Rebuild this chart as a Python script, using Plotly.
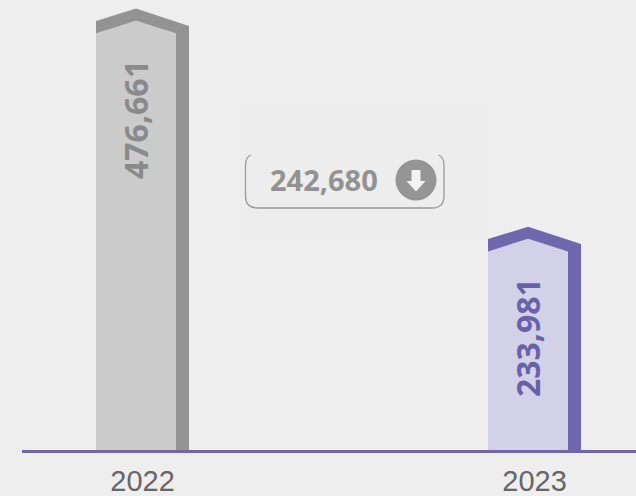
import plotly.graph_objects as go

# Yearly totals
years = ["2022", "2023"]
totals = [476661, 233981]
change = 242680

# Per-year colours: wall, face, label
wall_colors = ["#939393", "#7068AE"]
face_colors = ["#CBCBCB", "#D3D1E7"]
label_colors = ["#8A8A8A", "#6A62A8"]

WIDTH, HEIGHT = 636, 496
LEFT, BOTTOM = 22, 46
PLOT_W = WIDTH - LEFT
PLOT_H = HEIGHT - BOTTOM
PX_PER_CAT = 392.0
PX_PER_UNIT = 218.1 / change
FIRST_CENTER = 142.5
TOP_OF_TALLEST = 26  # pixel row of the tallest column's value
BACKGROUND = "#EEEEEE"
LABEL_FONT = "Noto Sans"


def px_x(p):
    return (p - LEFT) / PLOT_W


def px_y(p):
    return (PLOT_H - p) / PLOT_H


xs = list(range(len(years)))
fig = go.Figure()

# Flat front face and darker side wall of each column
fig.add_bar(x=xs, y=totals, width=80 / PX_PER_CAT, offset=-46.5 / PX_PER_CAT,
            marker=dict(color=face_colors, line_width=0), hoverinfo="skip")
fig.add_bar(x=xs, y=totals, width=13 / PX_PER_CAT, offset=33.5 / PX_PER_CAT,
            marker=dict(color=wall_colors, line_width=0), hoverinfo="skip")

shapes = []
annotations = []

# Roof on each column, anchored to the column's value and sized in pixels
for x, total, wall, face, ink in zip(xs, totals, wall_colors, face_colors, label_colors):
    for path, color in (
        ("M -46.5 -7.3 L -6.5 5.3 L 33.5 -7.3 Z", face),
        ("M -46.5 5 L -6.5 17.4 L 46.5 0 L 46.5 -8 L 33.5 -8 L 33.5 -7.3 "
         "L -6.5 5.3 L -46.5 -7.3 Z", wall),
    ):
        shapes.append(dict(type="path", xref="x", yref="y", xsizemode="pixel", ysizemode="pixel",
                           xanchor=x, yanchor=total, path=path, fillcolor=color,
                           line_width=0, layer="above"))
    annotations.append(dict(x=x, y=total, xref="x", yref="y", text=f"<b>{total:,}</b>",
                            textangle=-90, showarrow=False, xshift=-7.5, yshift=-94,
                            font=dict(family=LABEL_FONT, size=32, color=ink)))

# Change callout: faint panel, open-topped rounded frame, figure and badge
shapes.append(dict(type="rect", xref="paper", yref="paper", x0=px_x(240), x1=px_x(484),
                   y0=px_y(238), y1=px_y(103), fillcolor="#EDEDED", line_width=0, layer="below"))
x0, x1, y0, y1 = px_x(245.5), px_x(444), px_y(208), px_y(155)
rx, ry = 12 / PLOT_W, 12 / PLOT_H
shapes.append(dict(
    type="path", xref="paper", yref="paper",
    path=(f"M {x0 + rx * 0.45} {y1} Q {x0} {y1 - ry * 0.15} {x0} {y1 - ry * 0.9} "
          f"L {x0} {y0 + ry} Q {x0} {y0} {x0 + rx} {y0} "
          f"L {x1 - rx} {y0} Q {x1} {y0} {x1} {y0 + ry} "
          f"L {x1} {y1 - ry * 0.9} Q {x1} {y1 - ry * 0.15} {x1 - rx * 0.45} {y1}"),
    line=dict(color="#999999", width=1.3)))
cx, cy, r = 416, 180, 20.5
shapes.append(dict(type="circle", xref="paper", yref="paper", x0=px_x(cx - r), x1=px_x(cx + r),
                   y0=px_y(cy + r), y1=px_y(cy - r), fillcolor="#959595", line_width=0))
arrow = [(-4.5, -10), (4.5, -10), (4.5, 1), (9.5, 1), (0, 11.5), (-9.5, 1), (-4.5, 1)]
shapes.append(dict(
    type="path", xref="paper", yref="paper", fillcolor="#F2F2F2", line_width=0,
    path="M " + " L ".join(f"{px_x(cx + a)} {px_y(cy + b)}" for a, b in arrow) + " Z"))
annotations.append(dict(x=px_x(323.5), y=px_y(179), xref="paper", yref="paper",
                        text=f"<b>{change:,}</b>", showarrow=False,
                        font=dict(family=LABEL_FONT, size=29, color="#929292")))

y_floor = max(totals) - (PLOT_H - TOP_OF_TALLEST) / PX_PER_UNIT

fig.update_layout(
    width=WIDTH, height=HEIGHT, autosize=False,
    margin=dict(l=LEFT, r=0, t=0, b=BOTTOM, pad=0),
    paper_bgcolor=BACKGROUND, plot_bgcolor=BACKGROUND,
    barmode="overlay", showlegend=False, shapes=shapes, annotations=annotations,
    xaxis=dict(range=[-(FIRST_CENTER - LEFT) / PX_PER_CAT,
                      (WIDTH - FIRST_CENTER) / PX_PER_CAT],
               tickmode="array", tickvals=xs, ticktext=years,
               ticks="outside", ticklen=3, tickwidth=1, tickcolor=BACKGROUND, automargin=False,
               showgrid=False, zeroline=False, showline=True, linecolor="#6F67A8", linewidth=3,
               tickfont=dict(family="Liberation Sans", size=29, color="#666666")),
    yaxis=dict(range=[y_floor, y_floor + PLOT_H / PX_PER_UNIT],
               visible=False, showgrid=False, zeroline=False),
)

fig.write_html("out.html")
